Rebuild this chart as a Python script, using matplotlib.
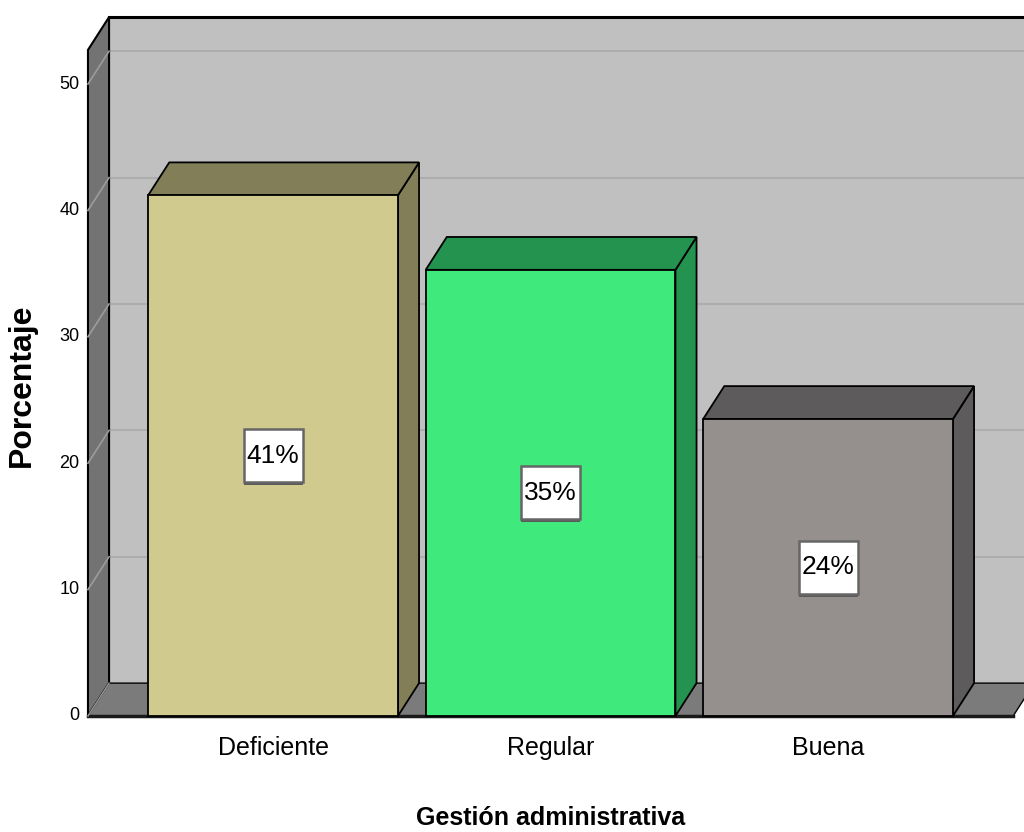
import matplotlib
matplotlib.use("Agg")
import matplotlib.pyplot as plt
from matplotlib.patches import Polygon, Rectangle

categorias = ["Deficiente", "Regular", "Buena"]
porcentajes = [41.2, 35.3, 23.5]
etiquetas = ["41%", "35%", "24%"]
yticks = [0, 10, 20, 30, 40, 50]

col_frente = ["#d0ca8e", "#40e97c", "#958f8e"]
col_lado = ["#827e58", "#259350", "#5d5b5b"]

fuente = ["Liberation Sans", "DejaVu Sans"]

fig = plt.figure(figsize=(10.24, 8.32), dpi=100)
ax = fig.add_axes([0, 0, 1, 1])
ax.set_xlim(-0.984, 2.706)
ax.set_ylim(-9.18, 56.65)
ax.axis("off")

dx, dy = 0.076, 2.6      # 3d depth offset
w = 0.9                  # bar width
x0, x1 = -0.667, 2.667   # left wall / floor end
ytop = 52.7              # top of the walls
xr = 3.0                 # back wall runs past the right edge
bw, bh = 0.213, 4.2      # label box size

# back wall
ax.add_patch(Polygon([(x0 + dx, dy), (xr, dy), (xr, ytop + dy), (x0 + dx, ytop + dy)],
                     closed=True, facecolor="#c0c0c0", edgecolor="none", zorder=1))
ax.plot([x0 + dx, xr], [ytop + dy, ytop + dy], color="black", lw=2.2, zorder=3)
# left wall
ax.add_patch(Polygon([(x0, 0), (x0, ytop), (x0 + dx, ytop + dy), (x0 + dx, dy)],
                     closed=True, facecolor="#737373", edgecolor="black", lw=1.5, zorder=2))
# gridlines
for t in yticks[1:]:
    ax.plot([x0 + dx, xr], [t + dy, t + dy], color="#adadad", lw=1.5, zorder=1.5)
    ax.plot([x0, x0 + dx], [t, t + dy], color="#9c9c9c", lw=1.2, zorder=2.5)
# floor
ax.add_patch(Polygon([(x0, 0), (x1, 0), (x1 + dx, dy), (x0 + dx, dy)],
                     closed=True, facecolor="#7b7b7b", edgecolor="black", lw=1.0, zorder=2))
ax.plot([x0, x1], [0, 0], color="#1a1a1a", lw=2.5, zorder=3)
ax.plot([x0, x0 + dx], [0, dy], color="#9c9c9c", lw=1.0, zorder=3)

# bars
for i, v in enumerate(porcentajes):
    l, r = i - w / 2, i + w / 2
    ax.add_patch(Polygon([(r, 0), (r + dx, dy), (r + dx, v + dy), (r, v)], closed=True,
                         facecolor=col_lado[i], edgecolor="black", lw=1.3, zorder=4))
    ax.add_patch(Polygon([(l, v), (r, v), (r + dx, v + dy), (l + dx, v + dy)], closed=True,
                         facecolor=col_lado[i], edgecolor="black", lw=1.3, zorder=4))
    ax.add_patch(Polygon([(l, 0), (r, 0), (r, v), (l, v)], closed=True,
                         facecolor=col_frente[i], edgecolor="black", lw=1.3, zorder=5))
    # value label box with a small shadow
    ax.add_patch(Rectangle((i - bw / 2, v / 2 - bh / 2 - 0.2), bw, bh,
                           facecolor="#5a5a5a", edgecolor="none", zorder=5.5))
    ax.add_patch(Rectangle((i - bw / 2, v / 2 - bh / 2), bw, bh,
                           facecolor="white", edgecolor="#666666", lw=1.8, zorder=6))
    ax.text(i, v / 2, etiquetas[i], ha="center", va="center", fontsize=19, family=fuente,
            zorder=7)
    ax.text(i, -2.55, categorias[i], ha="center", va="center", fontsize=18, family=fuente)

for t in yticks:
    ax.text(x0 - 0.03, t, str(t), ha="right", va="center", fontsize=13, family=fuente)

ax.text(1.0, -8.1, "Gestión administrativa", ha="center", va="center",
        fontsize=18, fontweight="bold", family=fuente)
ax.text(-0.905, 26.2, "Porcentaje", ha="center", va="center", rotation=90,
        fontsize=23, fontweight="bold", family=fuente)

fig.savefig("out.png", dpi=100)
